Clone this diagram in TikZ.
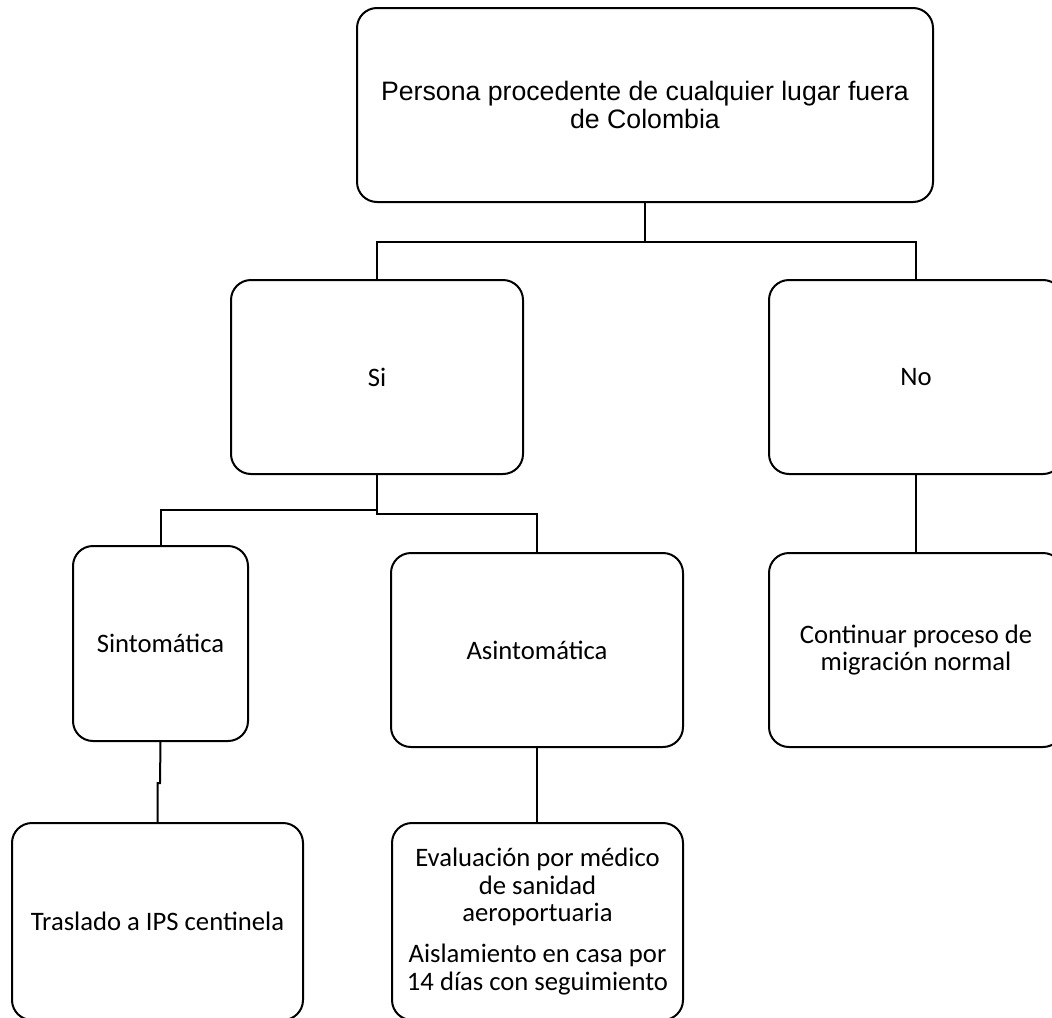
\documentclass[tikz,border=0pt]{standalone}
\usepackage{fontspec}
\setmainfont{Carlito}
\newfontfamily\arialf{Liberation Sans}
\begin{document}
\begin{tikzpicture}[x=0.75pt,y=-0.75pt,
  box/.style={draw=black, line width=1.5pt, rounded corners=15pt, inner sep=0pt, align=center,
    font={\fontsize{20}{20.6}\selectfont}},
  link/.style={draw=black, line width=1.5pt}]
\useasboundingbox (0,0) rectangle (1052,1017);
% boxes (centers in px, sizes in px*0.75)
\node[box, minimum width=432pt, minimum height=145.5pt, font={\arialf\fontsize{20}{21}\selectfont}] (top) at (645,105)
  {Persona procedente de cualquier lugar fuera\\de Colombia};
\node[box, minimum width=219pt, minimum height=145.5pt] (si) at (377,377) {Si};
\node[box, minimum width=220.5pt, minimum height=145.5pt] (no) at (916,377) {No};
\node[box, minimum width=131.25pt, minimum height=146.25pt] (sint) at (160.5,643.5) {Sintomática};
\node[box, minimum width=219pt, minimum height=145.5pt] (asint) at (537,650) {Asintomática};
\node[box, minimum width=220.5pt, minimum height=145.5pt] (cont) at (916,650) {Continuar proceso de\\migración normal};
\node[box, minimum width=218.25pt, minimum height=147.75pt] (tras) at (157.5,921.5) {Traslado a IPS centinela};
\node[box, minimum width=218.25pt, minimum height=147.75pt] (eval) at (537.5,921.5)
  {Evaluación por médico\\de sanidad\\aeroportuaria\\[10pt]Aislamiento en casa por\\14 días con seguimiento};
% connectors
\coordinate (t1) at (645,242);
\draw[link] (top.south) -- (t1);
\draw[link] (si.north) |- (t1) -| (no.north);
\coordinate (s1) at (377,510);
\coordinate (s2) at (377,514);
\draw[link] (si.south) -- (s2) -| (asint.north);
\draw[link] (sint.north) |- (s1);
\coordinate (k1) at (160,783);
\coordinate (k2) at (157.7,783);
\draw[link] (sint.south) -- (k1) -- (k2) -- (k2 |- tras.north);
\draw[link] (asint.south) -- (asint.south |- eval.north);
\draw[link] (no.south) -- (cont.north);
\end{tikzpicture}
\end{document}
